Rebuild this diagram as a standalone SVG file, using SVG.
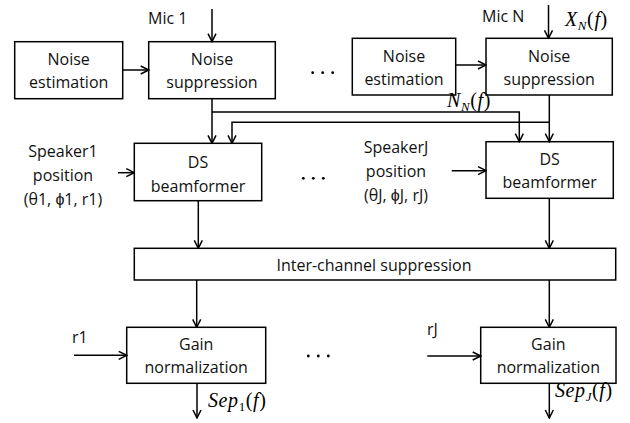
<svg xmlns="http://www.w3.org/2000/svg" width="630" height="423" viewBox="0 0 630 423">
  <defs>
    <marker id="arrow" markerUnits="userSpaceOnUse" viewBox="0 0 10 10" refX="9" refY="5" markerWidth="10" markerHeight="10" orient="auto">
      <path d="M1,1 L9,5 L1,9" fill="none" stroke="#000" stroke-width="1.5"/>
    </marker>
    <style>
      .box { fill: #fff; stroke: #000; stroke-width: 1.5; }
      .wire { fill: none; stroke: #000; stroke-width: 1.5; }
      .arr { marker-end: url(#arrow); }
      .t { font-family: "Open Sans", "Liberation Sans", sans-serif; font-size: 16px; fill: #111; text-anchor: middle; }
      .tl { font-family: "Open Sans", "Liberation Sans", sans-serif; font-size: 16px; fill: #111; }
      .m { font-family: "Liberation Serif", "DejaVu Serif", serif; font-style: italic; font-size: 20px; fill: #000; letter-spacing: 0.6px; }
      .up { font-style: normal; }
      .sub { font-size: 13px; }
      .dot { fill: #000; }
    </style>
  </defs>

  <!-- processing blocks -->
  <g id="noise-est-1">
    <rect class="box" x="14.7" y="41.7" width="108" height="57"/>
    <text class="t" x="68.7" y="65">Noise</text>
    <text class="t" x="68.7" y="88">estimation</text>
  </g>
  <g id="noise-sup-1">
    <rect class="box" x="148.7" y="41.7" width="126.6" height="57"/>
    <text class="t" x="212" y="65">Noise</text>
    <text class="t" x="212" y="88">suppression</text>
  </g>
  <g id="noise-est-n">
    <rect class="box" x="352.3" y="38.3" width="103.4" height="56.7"/>
    <text class="t" x="404" y="61.7">Noise</text>
    <text class="t" x="404" y="84.7">estimation</text>
  </g>
  <g id="noise-sup-n">
    <rect class="box" x="486" y="38.3" width="126.3" height="56.7"/>
    <text class="t" x="549.2" y="61.7">Noise</text>
    <text class="t" x="549.2" y="84.7">suppression</text>
  </g>
  <g id="ds-1">
    <rect class="box" x="134.3" y="143.3" width="127.4" height="57.4"/>
    <text class="t" x="198" y="168.3">DS</text>
    <text class="t" x="198" y="191.7">beamformer</text>
  </g>
  <g id="ds-j">
    <rect class="box" x="486" y="141.7" width="127.3" height="56.6"/>
    <text class="t" x="549.7" y="165">DS</text>
    <text class="t" x="549.7" y="188.3">beamformer</text>
  </g>
  <g id="inter-channel">
    <rect class="box" x="134.3" y="248.3" width="481.4" height="31.7"/>
    <text class="t" x="374" y="270.5">Inter-channel suppression</text>
  </g>
  <g id="gain-1">
    <rect class="box" x="126.7" y="327.3" width="139" height="56"/>
    <text class="t" x="196.2" y="350">Gain</text>
    <text class="t" x="196.2" y="373.3">normalization</text>
  </g>
  <g id="gain-j">
    <rect class="box" x="480.7" y="327.3" width="135.3" height="56"/>
    <text class="t" x="548.3" y="350">Gain</text>
    <text class="t" x="548.3" y="373.3">normalization</text>
  </g>

  <!-- input labels -->
  <g id="labels">
    <text class="tl" x="148" y="24">Mic 1</text>
    <text class="tl" x="482" y="21.7">Mic N</text>
    <text class="t" x="63" y="156.7">Speaker1</text>
    <text class="t" x="63" y="181">position</text>
    <text class="t" x="63" y="204.5">(θ1, ϕ1, r1)</text>
    <text class="t" x="396" y="153.3">SpeakerJ</text>
    <text class="t" x="396" y="177">position</text>
    <text class="t" x="396" y="200.5">(θJ, ϕJ, rJ)</text>
    <text class="tl" x="72" y="343.3">r1</text>
    <text class="tl" x="427" y="335">rJ</text>
    <text class="m" x="565" y="26">X<tspan class="sub" dy="4">N</tspan><tspan class="up" dy="-4">(</tspan>f<tspan class="up">)</tspan></text>
    <text class="m" x="447" y="107">N<tspan class="sub" dy="4">N</tspan><tspan class="up" dy="-4">(</tspan>f<tspan class="up">)</tspan></text>
    <text class="m" x="208" y="407">Sep<tspan class="sub up" dy="4">1</tspan><tspan class="up" dy="-4">(</tspan>f<tspan class="up">)</tspan></text>
    <text class="m" x="555" y="397">Sep<tspan class="sub" dy="4">J</tspan><tspan class="up" dy="-4">(</tspan>f<tspan class="up">)</tspan></text>
  </g>

  <!-- ellipses between channels -->
  <g id="ellipses">
    <circle class="dot" cx="312.7" cy="72.7" r="1.4"/>
    <circle class="dot" cx="322.7" cy="72.7" r="1.4"/>
    <circle class="dot" cx="332.7" cy="72.7" r="1.4"/>
    <circle class="dot" cx="303.3" cy="178.3" r="1.4"/>
    <circle class="dot" cx="313.3" cy="178.3" r="1.4"/>
    <circle class="dot" cx="323.3" cy="178.3" r="1.4"/>
    <circle class="dot" cx="308.3" cy="356" r="1.4"/>
    <circle class="dot" cx="318.3" cy="356" r="1.4"/>
    <circle class="dot" cx="328.3" cy="356" r="1.4"/>
  </g>

  <!-- connectors -->
  <g id="connectors">
    <path class="wire arr" d="M212,9 V41.7"/>
    <path class="wire arr" d="M548.5,5 V38.3"/>
    <path class="wire arr" d="M122.7,70 H148.7"/>
    <path class="wire arr" d="M455.7,65 H486"/>
    <path class="wire arr" d="M212,98.7 V143.3"/>
    <path class="wire arr" d="M212,112 H519.3 V141.7"/>
    <path class="wire arr" d="M549.3,95 V141.7"/>
    <path class="wire arr" d="M549.3,122.3 H232 V143.3"/>
    <path class="wire arr" d="M118,172.7 H134.3"/>
    <path class="wire arr" d="M451.7,170.7 H486"/>
    <path class="wire arr" d="M198.3,200.7 V248.3"/>
    <path class="wire arr" d="M549.3,198.3 V248.3"/>
    <path class="wire arr" d="M196.7,280 V327.3"/>
    <path class="wire arr" d="M549.3,280 V327.3"/>
    <path class="wire arr" d="M74,355.3 H126.7"/>
    <path class="wire arr" d="M427.3,356 H480.7"/>
    <path class="wire arr" d="M197,383.3 V418"/>
    <path class="wire arr" d="M549.3,383.3 V418"/>
  </g>
</svg>
